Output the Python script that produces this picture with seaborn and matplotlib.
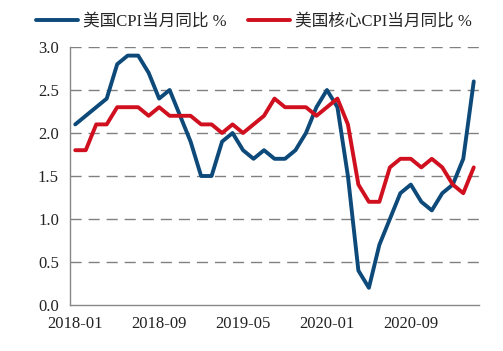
import matplotlib
matplotlib.use("Agg")
import matplotlib.pyplot as plt
import seaborn as sns
import pandas as pd
import numpy as np
from matplotlib.lines import Line2D

months = pd.date_range("2018-01-01", "2021-03-01", freq="MS").strftime("%Y-%m").tolist()
cpi = [2.1, 2.2, 2.3, 2.4, 2.8, 2.9, 2.9, 2.7, 2.4, 2.5, 2.2, 1.9,
       1.5, 1.5, 1.9, 2.0, 1.8, 1.7, 1.8, 1.7, 1.7, 1.8, 2.0, 2.3,
       2.5, 2.3, 1.5, 0.4, 0.2, 0.7, 1.0, 1.3, 1.4, 1.2, 1.1, 1.3,
       1.4, 1.7, 2.6]
core = [1.8, 1.8, 2.1, 2.1, 2.3, 2.3, 2.3, 2.2, 2.3, 2.2, 2.2, 2.2,
        2.1, 2.1, 2.0, 2.1, 2.0, 2.1, 2.2, 2.4, 2.3, 2.3, 2.3, 2.2,
        2.3, 2.4, 2.1, 1.4, 1.2, 1.2, 1.6, 1.7, 1.7, 1.6, 1.7, 1.6,
        1.4, 1.3, 1.6]
labels = ["美国CPI当月同比 %", "美国核心CPI当月同比 %"]
colors = ["#0D4A7A", "#D0101F"]
xtick_labels = ["2018-01", "2018-09", "2019-05", "2020-01", "2020-09"]
yticks = [0.0, 0.5, 1.0, 1.5, 2.0, 2.5, 3.0]

sns.set_style("white")
plt.rcParams["font.family"] = ["Liberation Serif", "Noto Sans CJK SC", "DejaVu Sans"]

df = pd.DataFrame({"idx": list(range(len(months))) * 2,
                   "value": cpi + core,
                   "series": [labels[0]] * len(cpi) + [labels[1]] * len(core)})

fig = plt.figure(figsize=(5.03, 3.51), dpi=100)
ax = fig.add_axes([70 / 503, 1 - 305 / 351, (479 - 70) / 503, (305 - 47) / 351])

sns.lineplot(data=df, x="idx", y="value", hue="series", palette=colors,
             linewidth=2.8, ax=ax, legend=False)

ax.set_xlim(-0.5, len(months) - 0.5)
ax.set_ylim(0, 3.0)
ax.set_yticks(yticks)
ax.set_yticklabels([f"{v:.1f}" for v in yticks], fontsize=12)

label_pos = [months.index(m) for m in xtick_labels]
ax.set_xticks([p - 0.5 for p in label_pos])
ax.set_xticklabels([])
ax.set_xticks(label_pos, minor=True)
ax.set_xticklabels(xtick_labels, minor=True, fontsize=12)
ax.tick_params(axis="x", which="minor", length=0, pad=8)
ax.tick_params(axis="x", which="major", length=5, width=1, direction="out")
ax.tick_params(axis="y", length=5, width=1, direction="out", pad=3)
ax.tick_params(axis="both", which="both", color="#888888", labelcolor="#222222")

for v in yticks[1:]:
    ax.axhline(v, color="#808080", linewidth=1, linestyle=(0, (8, 5)), zorder=0)

for s in ["top", "right"]:
    ax.spines[s].set_visible(False)
for s in ["left", "bottom"]:
    ax.spines[s].set_color("#888888")
    ax.spines[s].set_linewidth(1)

ax.set_xlabel("")
ax.set_ylabel("")

handles = [Line2D([0], [0], color=c, linewidth=2.8) for c in colors]
fig.legend(handles, labels, loc="center", bbox_to_anchor=(254 / 503, 1 - 22 / 351),
           ncol=2, frameon=False, fontsize=12, handlelength=2.5, handletextpad=0.3,
           columnspacing=1.3, borderpad=0, borderaxespad=0)

fig.savefig("out.png", dpi=100)
